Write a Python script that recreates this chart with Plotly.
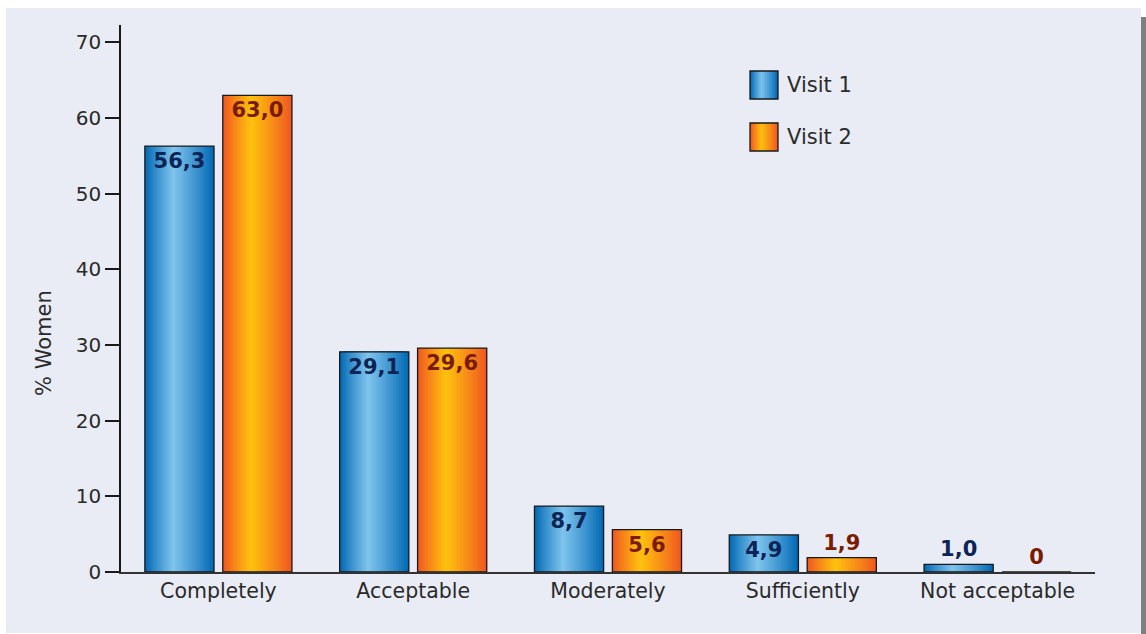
import plotly.graph_objects as go

categories = ["Completely", "Acceptable", "Moderately", "Sufficiently", "Not acceptable"]
visit1 = [56.3, 29.1, 8.7, 4.9, 1.0]
visit2 = [63.0, 29.6, 5.6, 1.9, 0.0]
series_names = ["Visit 1", "Visit 2"]
y_ticks = [0, 10, 20, 30, 40, 50, 60, 70]

W, H = 1146, 634
ML, MR, MT, MB = 121, 51, 25, 62
PW, PH = W - ML - MR, H - MT - MB

def px(x):
    return (x - ML) / PW

def py(y):
    return (H - MB - y) / PH

def mix(a, b, t):
    return "rgb(%d,%d,%d)" % tuple(round(a[i] + (b[i] - a[i]) * t) for i in range(3))

BLUE_EDGE, BLUE_MID = (0, 104, 180), (130, 198, 238)
ORNG_EDGE, ORNG_MID = (240, 86, 34), (255, 196, 14)
PEAK = 0.41
NL = 26

def fmt(v):
    return "0" if v == 0 else ("%.1f" % v).replace(".", ",")

FONT = "DejaVu Sans, Verdana, sans-serif"
BARW = 0.355
series = [
    (visit1, -0.2, BLUE_EDGE, BLUE_MID, "#0c2456"),
    (visit2, 0.2, ORNG_EDGE, ORNG_MID, "#7a1c00"),
]

fig = go.Figure()
for vals, off, edge, mid, tcol in series:
    for k in range(NL):
        t = k / NL
        fig.add_trace(go.Bar(
            x=categories, y=vals,
            width=BARW * (1 - t),
            offset=off - BARW / 2 + PEAK * BARW * t,
            marker=dict(color=mix(edge, mid, t ** 0.9), line=dict(width=0)),
            hoverinfo="skip", showlegend=False,
        ))
for (vals, off, edge, mid, tcol), name in zip(series, series_names):
    fig.add_trace(go.Bar(
        x=categories, y=vals, name=name,
        width=BARW, offset=off - BARW / 2,
        marker=dict(color="rgba(0,0,0,0)", line=dict(color="#1a1a1a", width=1.3)),
        text=[fmt(v) for v in vals],
        textposition=["inside" if v > 4 else "outside" for v in vals],
        insidetextanchor="end",
        textfont=dict(family=FONT, size=21, color=tcol, weight="bold"),
        cliponaxis=False, showlegend=False,
    ))

shapes = [
    dict(type="rect", xref="paper", yref="paper", x0=px(6), x1=px(1141), y0=py(633), y1=py(8),
         fillcolor="#e9ecf4", line=dict(width=0), layer="below"),
    dict(type="rect", xref="paper", yref="paper", x0=px(1141), x1=px(1146), y0=py(634), y1=py(17),
         fillcolor="#7f7f7f", line=dict(width=0), layer="below"),
]
annotations = [
    dict(xref="paper", yref="paper", x=px(44), y=py(343), text="% Women", textangle=-90,
         showarrow=False, xanchor="center", yanchor="middle",
         font=dict(family=FONT, size=21, color="#2a2a2a")),
]
legend_y = [85, 137]
for (vals, off, edge, mid, tcol), name, cy in zip(series, series_names, legend_y):
    x0, x1, y0, y1 = 750, 778, cy - 14, cy + 14
    sw = x1 - x0
    for k in range(12):
        t = k / 12
        shapes.append(dict(type="rect", xref="paper", yref="paper",
                           x0=px(x0 + PEAK * sw * t), x1=px(x1 - (1 - PEAK) * sw * t),
                           y0=py(y1), y1=py(y0), fillcolor=mix(edge, mid, t ** 0.9),
                           line=dict(width=0), layer="above"))
    shapes.append(dict(type="rect", xref="paper", yref="paper", x0=px(x0), x1=px(x1),
                       y0=py(y1), y1=py(y0), fillcolor="rgba(0,0,0,0)",
                       line=dict(color="#1a1a1a", width=1.3), layer="above"))
    annotations.append(dict(xref="paper", yref="paper", x=px(785), y=py(cy), text=name,
                            showarrow=False, xanchor="left", yanchor="middle",
                            font=dict(family=FONT, size=21, color="#2a2a2a")))

fig.update_layout(
    width=W, height=H,
    margin=dict(l=ML, r=MR, t=MT, b=MB, autoexpand=False),
    barmode="overlay",
    paper_bgcolor="white", plot_bgcolor="rgba(0,0,0,0)",
    font=dict(family=FONT, size=20, color="#2a2a2a"),
    showlegend=False,
    uniformtext=dict(minsize=21, mode="show"),
    shapes=shapes, annotations=annotations,
    xaxis=dict(range=[-0.5, 4.5], showline=True, linecolor="#333333", linewidth=1.5,
               showgrid=False, zeroline=False, ticks="", tickfont=dict(size=20.5, color="#2a2a2a")),
    yaxis=dict(range=[0, 72.3], tickvals=y_ticks, showline=True, linecolor="#1a1a1a", linewidth=1.5,
               ticks="outside", ticklen=14, tickwidth=1.5, tickcolor="#1a1a1a",
               showgrid=False, zeroline=False, tickfont=dict(size=20, color="#2a2a2a")),
)

fig.write_html("out.html")
